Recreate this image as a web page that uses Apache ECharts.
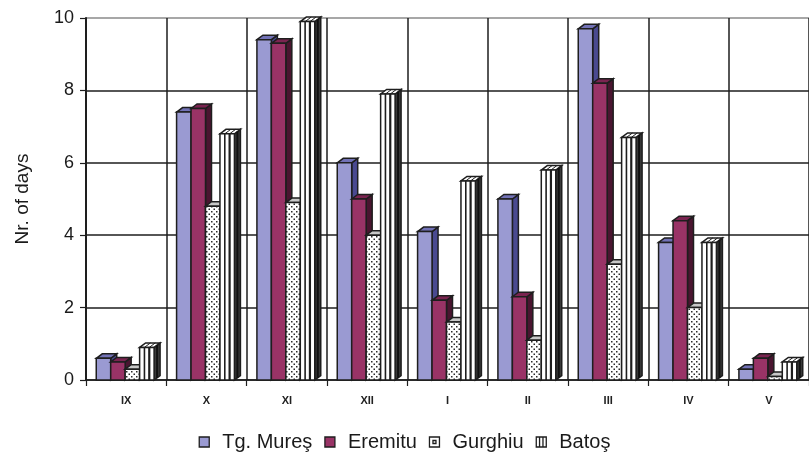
<!DOCTYPE html>
<html>
<head>
<meta charset="utf-8">
<script src="https://cdn.jsdelivr.net/npm/echarts@6/dist/echarts.min.js"></script>
<style>
html,body{margin:0;padding:0;background:#fff;}
#chart{width:809px;height:457px;}
</style>
</head>
<body>
<div id="chart"></div>
<script>
// ---- data ----
const categories = ['IX', 'X', 'XI', 'XII', 'I', 'II', 'III', 'IV', 'V'];
const seriesNames = ['Tg. Mureş', 'Eremitu', 'Gurghiu', 'Batoş'];
const tgMures = [0.6, 7.4, 9.4, 6.0, 4.1, 5.0, 9.7, 3.8, 0.3];
const eremitu = [0.5, 7.5, 9.3, 5.0, 2.2, 2.3, 8.2, 4.4, 0.6];
const gurghiu = [0.3, 4.8, 4.9, 4.0, 1.6, 1.1, 3.2, 2.0, 0.1];
const batos   = [0.9, 6.8, 9.9, 7.9, 5.5, 5.8, 6.7, 3.8, 0.5];
const yTicks = [0, 2, 4, 6, 8, 10];
const seriesValues = [tgMures, eremitu, gurghiu, batos];

// ---- styles ----
const FONT = '"Liberation Sans", Arial, sans-serif';
const EDGE = '#1e1e1e';

function makeDots() {
  const c = document.createElement('canvas');
  c.width = 5; c.height = 5;
  const g = c.getContext('2d');
  g.fillStyle = '#ffffff'; g.fillRect(0, 0, 5, 5);
  g.fillStyle = '#2a2a2a';
  g.fillRect(1, 1, 1.5, 1.5);
  g.fillRect(3.5, 3.5, 1.5, 1.5);
  return c;
}
const dotPattern = { image: makeDots(), repeat: 'repeat' };

const faceStyles = [
  { front: '#9a9ad2', top: '#7272b6', side: '#4a4a90' },
  { front: '#993366', top: '#7a2450', side: '#4a1530' },
  { front: dotPattern, top: '#c8c8c8', side: '#8a8a8a' },
  { front: '#ffffff', top: '#ffffff', side: '#3a3a3a' }
];
const legendColors = ['#9a9ad2', '#993366', '#ffffff', '#ffffff'];
const legendIcons = [
  'rect',
  'rect',
  'path://M0,0H10V10H0Z M3.5,3.5H6.5V6.5H3.5Z',
  'path://M0,0H10V10H0Z M3.3,0V10 M6.7,0V10'
];

const DX = 6, DY = 4.5;

function makeRender(k) {
  return function (params, api) {
    const ci = api.value(0), v = api.value(1);
    const base = api.coord([ci, 0]);
    const top = api.coord([ci, v]);
    const band = api.size([1, 0])[0];
    const bw = band * 0.18;
    const x0 = base[0] - 2 * bw - 1 + k * bw;
    const yt = top[1], yb = base[1];
    const fs = faceStyles[k];
    const lw = 1.5;
    const children = [];
    children.push({
      type: 'polygon',
      shape: { points: [[x0 + bw, yt], [x0 + bw + DX, yt - DY], [x0 + bw + DX, yb - DY], [x0 + bw, yb]] },
      style: { fill: fs.side, stroke: EDGE, lineWidth: lw }
    });
    children.push({
      type: 'polygon',
      shape: { points: [[x0, yt], [x0 + DX, yt - DY], [x0 + bw + DX, yt - DY], [x0 + bw, yt]] },
      style: { fill: fs.top, stroke: EDGE, lineWidth: lw }
    });
    children.push({
      type: 'rect',
      shape: { x: x0, y: yt, width: bw, height: yb - yt },
      style: { fill: fs.front, stroke: EDGE, lineWidth: lw }
    });
    if (k === 3) {
      [1 / 3, 2 / 3].forEach(function (f, j) {
        const xl = x0 + bw * f;
        children.push({
          type: 'line',
          shape: { x1: xl, y1: yt, x2: xl, y2: yb },
          style: { stroke: EDGE, lineWidth: j === 1 ? 2.2 : 1.6 }
        });
        children.push({
          type: 'line',
          shape: { x1: xl, y1: yt, x2: xl + DX, y2: yt - DY },
          style: { stroke: EDGE, lineWidth: 1 }
        });
      });
      children.push({
        type: 'line',
        shape: { x1: x0 + bw + DX * 0.5, y1: yt - DY * 0.5, x2: x0 + bw + DX * 0.5, y2: yb - DY * 0.5 },
        style: { stroke: '#111', lineWidth: 2 }
      });
    }
    return { type: 'group', children: children };
  };
}

const series = seriesNames.map(function (name, k) {
  return {
    name: name,
    type: 'custom',
    renderItem: makeRender(k),
    encode: { x: 0, y: 1 },
    itemStyle: { color: legendColors[k] },
    data: seriesValues[k].map(function (v, i) { return [i, v]; }),
    z: 3
  };
});

const chart = echarts.init(document.getElementById('chart'), null, { renderer: 'canvas' });
chart.setOption({
  animation: false,
  backgroundColor: '#ffffff',
  textStyle: { fontFamily: FONT },
  grid: { left: 86, right: -2, top: 18, bottom: 77, containLabel: false },
  xAxis: {
    type: 'category',
    data: categories,
    boundaryGap: true,
    axisLine: { show: true, lineStyle: { color: '#1e1e1e', width: 1.5 } },
    axisTick: { show: true, length: 6, inside: false, lineStyle: { color: '#1e1e1e', width: 1.2 } },
    splitLine: { show: true, lineStyle: { color: '#1e1e1e', width: 1.5 } },
    axisLabel: { margin: 15, fontSize: 11, fontWeight: 'bold', color: '#222', fontFamily: FONT }
  },
  yAxis: {
    type: 'value',
    min: yTicks[0],
    max: yTicks[yTicks.length - 1],
    interval: 2,
    name: 'Nr. of days',
    nameLocation: 'middle',
    nameGap: 54,
    nameTextStyle: { fontSize: 19, color: '#1a1a1a', fontFamily: FONT },
    axisLine: { show: true, lineStyle: { color: '#1e1e1e', width: 2 } },
    axisTick: { show: true, length: 6, lineStyle: { color: '#1e1e1e', width: 1.2 } },
    axisLabel: { margin: 12, fontSize: 18, color: '#1a1a1a', fontFamily: FONT },
    splitLine: { show: true, lineStyle: { color: ['#1e1e1e', '#1e1e1e', '#1e1e1e', '#1e1e1e', '#1e1e1e', '#8a8a8a'], width: 1.5 } }
  },
  legend: {
    bottom: 0,
    left: 'center',
    itemWidth: 10,
    itemHeight: 10,
    itemGap: 12,
    textStyle: { fontSize: 20, color: '#1a1a1a', fontFamily: FONT, padding: [0, 0, 0, 8] },
    data: seriesNames.map(function (n, k) {
      return {
        name: n,
        icon: legendIcons[k],
        itemStyle: { color: legendColors[k], borderColor: '#1e1e1e', borderWidth: 1.3 }
      };
    })
  },
  series: series
});
</script>
</body>
</html>
